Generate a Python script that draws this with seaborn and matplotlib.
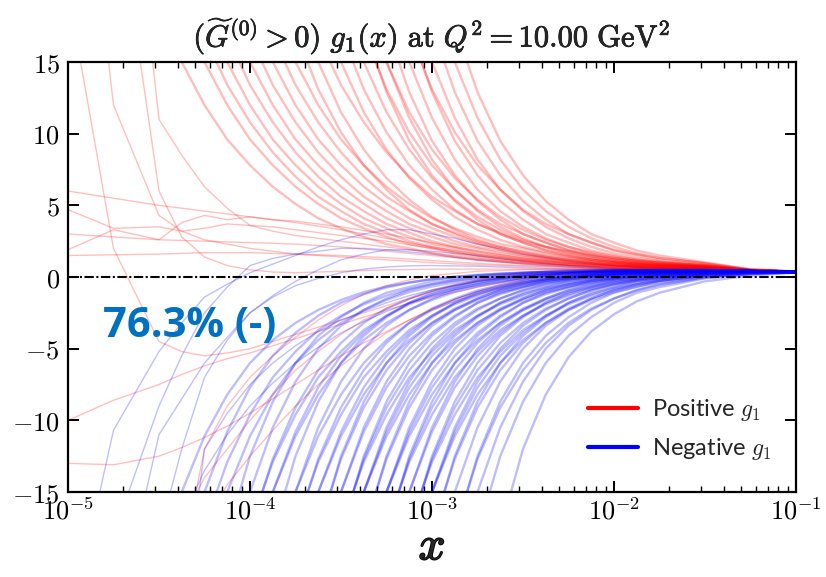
import matplotlib
matplotlib.use("Agg")
import matplotlib.pyplot as plt
import matplotlib.patheffects as pe
from matplotlib.lines import Line2D
from matplotlib.ticker import FixedLocator, FixedFormatter, LogLocator, NullFormatter
import pandas as pd
import seaborn as sns

# ---------------- data ----------------
# x grid (log-spaced nodes); every replica row is right-aligned to this grid:
# a row of length L gives g1 at the last L nodes.
x_nodes = [1.0e-5, 1.778e-5, 3.162e-5, 4.217e-5, 5.623e-5, 7.499e-5, 1.0e-4,
           1.334e-4, 1.778e-4, 2.371e-4, 3.162e-4, 4.217e-4, 5.623e-4, 7.499e-4,
           1.0e-3, 1.334e-3, 1.778e-3, 2.371e-3, 3.162e-3, 4.217e-3, 5.623e-3,
           7.499e-3, 1.0e-2, 1.334e-2, 1.778e-2, 3.162e-2, 5.623e-2, 1.0e-1]

# positive replicas leaving the top of the frame
red_fan = [
    [15, 12.0, 9.6, 7.8, 6.3, 5.1, 4.1, 3.4, 2.8, 2.3, 2.0, 1.65, 1.4, 1.2, 1.08, 0.96, 0.86, 0.79, 0.73, 0.69, 0.65, 0.61, 0.57, 0.47, 0.37],
    [15, 12.0, 9.6, 7.8, 6.3, 5.1, 4.1, 3.4, 2.8, 2.3, 2.0, 1.65, 1.4, 1.2, 1.08, 0.96, 0.86, 0.79, 0.73, 0.69, 0.65, 0.59, 0.47, 0.37],
    [16.8, 13.4, 10.8, 8.7, 7.0, 5.6, 4.6, 3.7, 3.1, 2.5, 2.1, 1.8, 1.5, 1.3, 1.15, 1.0, 0.91, 0.83, 0.76, 0.71, 0.67, 0.60, 0.47, 0.37],
    [15, 12.0, 9.6, 7.8, 6.3, 5.1, 4.1, 3.4, 2.8, 2.3, 2.0, 1.65, 1.4, 1.2, 1.08, 0.96, 0.86, 0.79, 0.73, 0.69, 0.61, 0.47, 0.37],
    [16.8, 13.4, 10.8, 8.7, 7.0, 5.6, 4.6, 3.7, 3.1, 2.5, 2.1, 1.8, 1.5, 1.3, 1.15, 1.0, 0.91, 0.83, 0.76, 0.71, 0.63, 0.47, 0.37],
    [15, 12.0, 9.6, 7.8, 6.3, 5.1, 4.1, 3.4, 2.8, 2.3, 2.0, 1.65, 1.4, 1.2, 1.08, 0.96, 0.86, 0.79, 0.73, 0.65, 0.47, 0.37],
    [16.8, 13.4, 10.8, 8.7, 7.0, 5.6, 4.6, 3.7, 3.1, 2.5, 2.1, 1.8, 1.5, 1.3, 1.15, 1.0, 0.91, 0.83, 0.76, 0.67, 0.47, 0.37],
    [15, 12.0, 9.6, 7.8, 6.3, 5.1, 4.1, 3.4, 2.8, 2.3, 2.0, 1.65, 1.4, 1.2, 1.08, 0.96, 0.86, 0.79, 0.69, 0.47, 0.37],
    [16.8, 13.4, 10.8, 8.7, 7.0, 5.6, 4.6, 3.7, 3.1, 2.5, 2.1, 1.8, 1.5, 1.3, 1.15, 1.0, 0.91, 0.83, 0.71, 0.47, 0.37],
    [15, 12.0, 9.6, 7.8, 6.3, 5.1, 4.1, 3.4, 2.8, 2.3, 2.0, 1.65, 1.4, 1.2, 1.08, 0.96, 0.86, 0.73, 0.47, 0.37],
    [17.1, 13.1, 10.1, 7.8, 6.1, 4.7, 3.7, 3.0, 2.4, 1.9, 1.58, 1.32, 1.12, 0.98, 0.86, 0.78, 0.71, 0.62, 0.47, 0.37],
    [16.8, 13.4, 10.8, 8.7, 7.0, 5.6, 4.6, 3.7, 3.1, 2.5, 2.1, 1.8, 1.5, 1.3, 1.15, 1.0, 0.83, 0.47, 0.38],
    [15, 11.5, 8.9, 6.9, 5.4, 4.2, 3.3, 2.6, 2.1, 1.74, 1.44, 1.22, 1.05, 0.91, 0.82, 0.74, 0.64, 0.47, 0.37],
    [15, 11.5, 8.9, 6.9, 5.4, 4.2, 3.3, 2.6, 2.1, 1.74, 1.44, 1.22, 1.05, 0.91, 0.82, 0.68, 0.47, 0.37],
    [17.1, 13.1, 10.1, 7.8, 6.1, 4.7, 3.7, 3.0, 2.4, 1.9, 1.58, 1.32, 1.12, 0.98, 0.86, 0.71, 0.47, 0.37],
]

red_steep = [
    [15, 11.5, 8.9, 6.9, 5.4, 4.2, 3.3, 2.6, 2.1, 1.74, 1.44, 1.22, 1.05, 0.91, 0.74, 0.47, 0.37],
    [17.1, 13.1, 10.1, 7.8, 6.1, 4.7, 3.7, 3.0, 2.4, 1.9, 1.58, 1.32, 1.12, 0.98, 0.78, 0.47, 0.37],
    [17.5, 12.9, 9.5, 7.1, 5.3, 4.0, 3.0, 2.4, 1.85, 1.5, 1.2, 1.02, 0.88, 0.78, 0.64, 0.47, 0.37],
    [15, 11.5, 8.9, 6.9, 5.4, 4.2, 3.3, 2.6, 2.1, 1.74, 1.44, 1.22, 1.05, 0.82, 0.47, 0.37],
    [15, 11.1, 8.2, 6.1, 4.6, 3.5, 2.7, 2.1, 1.65, 1.34, 1.1, 0.95, 0.82, 0.67, 0.47, 0.37],
    [17.5, 12.9, 9.5, 7.1, 5.3, 4.0, 3.0, 2.4, 1.85, 1.5, 1.2, 1.02, 0.88, 0.70, 0.47, 0.37],
    [15, 11.1, 8.2, 6.1, 4.6, 3.5, 2.7, 2.1, 1.65, 1.34, 1.1, 0.95, 0.74, 0.47, 0.37],
    [17.5, 12.9, 9.5, 7.1, 5.3, 4.0, 3.0, 2.4, 1.85, 1.5, 1.2, 1.02, 0.78, 0.47, 0.37],
    [17.1, 13.1, 10.1, 7.8, 6.1, 4.7, 3.7, 3.0, 2.4, 1.9, 1.58, 1.32, 0.98, 0.50, 0.38],
    [15, 11.1, 8.2, 6.1, 4.6, 3.5, 2.7, 2.1, 1.65, 1.34, 1.1, 0.82, 0.50, 0.38],
    [17.5, 12.9, 9.5, 7.1, 5.3, 4.0, 3.0, 2.4, 1.85, 1.5, 1.2, 0.88, 0.50, 0.38],
    [15, 11.1, 8.2, 6.1, 4.6, 3.5, 2.7, 2.1, 1.65, 1.34, 0.95, 0.52, 0.38],
    [17.5, 12.9, 9.5, 7.1, 5.3, 4.0, 3.0, 2.4, 1.85, 1.5, 1.02, 0.55, 0.39],
]

# positive replicas with irregular small-x behaviour (full grid)
red_left = [
    [4.7, 3.4, 3.5, 3.2, 3.4, 3.7, 3.6, 3.5, 3.3, 3.1, 2.9, 2.7, 2.5, 2.25, 2.0, 1.75, 1.5, 1.3, 1.1, 0.97, 0.85, 0.77, 0.70, 0.65, 0.60, 0.52, 0.45, 0.36],
    [1.9, 3.3, 2.6, 3.8, 4.3, 4.0, 4.2, 4.0, 3.9, 3.7, 3.5, 3.25, 3.0, 2.7, 2.4, 2.1, 1.8, 1.55, 1.3, 1.15, 1.0, 0.9, 0.8, 0.72, 0.65, 0.55, 0.46, 0.37],
    [3.0, 2.8, 2.6, 2.55, 2.5, 2.45, 2.4, 2.35, 2.3, 2.2, 2.1, 1.95, 1.8, 1.65, 1.5, 1.35, 1.2, 1.07, 0.95, 0.87, 0.8, 0.74, 0.68, 0.64, 0.6, 0.55, 0.46, 0.37],
    [6.0, 5.5, 5.0, 4.8, 4.6, 4.4, 4.2, 4.0, 3.8, 3.55, 3.3, 3.0, 2.7, 2.4, 2.1, 1.85, 1.6, 1.4, 1.2, 1.07, 0.95, 0.86, 0.78, 0.72, 0.66, 0.57, 0.47, 0.37],
    [1.5, 1.55, 1.6, 1.65, 1.7, 1.7, 1.7, 1.65, 1.6, 1.55, 1.5, 1.42, 1.35, 1.25, 1.15, 1.05, 0.95, 0.87, 0.8, 0.75, 0.7, 0.66, 0.62, 0.6, 0.57, 0.53, 0.45, 0.36],
    [20, 2.0, -4.5, -5.2, -5.5, -5.3, -5.0, -4.5, -4.0, -3.5, -3.0, -2.5, -2.0, -1.5, -1.0, -0.6, -0.3, -0.05, 0.2, 0.35, 0.45, 0.5, 0.55, 0.55, 0.55, 0.52, 0.45, 0.36],
    [40, 12.0, 4.3, 3.2, 2.6, 2.3, 2.0, 1.8, 1.6, 1.5, 1.4, 1.3, 1.2, 1.1, 1.0, 0.92, 0.85, 0.8, 0.75, 0.7, 0.65, 0.62, 0.6, 0.57, 0.55, 0.5, 0.44, 0.36],
    [40, 28, 6.0, 2.8, 1.4, 0.8, 0.5, 0.35, 0.3, 0.35, 0.4, 0.45, 0.5, 0.52, 0.55, 0.55, 0.55, 0.55, 0.55, 0.55, 0.55, 0.55, 0.55, 0.54, 0.52, 0.5, 0.44, 0.36],
    [40, 40, 11.0, 8.5, 6.3, 4.8, 3.6, 3.2, 2.9, 2.7, 2.5, 2.3, 2.1, 1.9, 1.7, 1.5, 1.3, 1.15, 1.0, 0.9, 0.8, 0.72, 0.65, 0.61, 0.58, 0.53, 0.46, 0.37],
    [-10, -8.6, -7.5, -6.8, -6.2, -5.7, -5.3, -4.8, -4.3, -3.8, -3.3, -2.8, -2.3, -1.85, -1.4, -1.05, -0.7, -0.4, -0.1, 0.1, 0.3, 0.42, 0.5, 0.53, 0.55, 0.5, 0.44, 0.36],
    [-13, -13.1, -12.5, -11.9, -11.2, -10.4, -9.5, -8.5, -7.5, -6.5, -5.5, -4.6, -3.8, -3.0, -2.3, -1.7, -1.2, -0.8, -0.4, -0.15, 0.1, 0.25, 0.4, 0.45, 0.5, 0.5, 0.44, 0.36],
    [-40, -40, -30, -20, -12, -9.0, -7.0, -5.5, -4.2, -3.0, -2.0, -1.2, -0.6, -0.2, 0.1, 0.25, 0.4, 0.45, 0.5, 0.52, 0.55, 0.55, 0.55, 0.54, 0.52, 0.5, 0.44, 0.36],
    [-40, -30, -20, -17, -14, -12, -10, -8.2, -6.5, -5.2, -4.0, -3.0, -2.2, -1.55, -1.0, -0.55, -0.2, 0.05, 0.3, 0.42, 0.5, 0.53, 0.55, 0.54, 0.53, 0.5, 0.44, 0.36],
    [-40, -32, -25, -21, -17, -14.5, -12.5, -10.7, -9.0, -7.5, -6.2, -5.0, -3.9, -3.0, -2.2, -1.55, -1.0, -0.55, -0.2, 0.05, 0.3, 0.42, 0.5, 0.53, 0.55, 0.5, 0.44, 0.36],
]

# negative replicas leaving the bottom, x < 3e-4
blue_mid = [
    [-15, -11.1, -8.2, -6.0, -4.4, -3.2, -2.3, -1.6, -1.05, -0.66, -0.37, -0.15, 0.01, 0.13, 0.22, 0.29, 0.35, 0.39, 0.41, 0.43, 0.45, 0.46, 0.48, 0.42, 0.35],
    [-17.4, -12.9, -9.6, -7.0, -5.2, -3.7, -2.7, -1.9, -1.3, -0.84, -0.5, -0.25, -0.07, 0.08, 0.18, 0.26, 0.32, 0.37, 0.40, 0.42, 0.44, 0.47, 0.42, 0.35],
    [-15, -10.8, -7.7, -5.5, -3.9, -2.7, -1.8, -1.2, -0.73, -0.4, -0.15, 0.02, 0.15, 0.25, 0.32, 0.37, 0.4, 0.43, 0.45, 0.47, 0.48, 0.49, 0.42, 0.35],
    [-15, -11.1, -8.2, -6.0, -4.4, -3.2, -2.3, -1.6, -1.05, -0.66, -0.37, -0.15, 0.01, 0.13, 0.22, 0.29, 0.35, 0.39, 0.41, 0.43, 0.46, 0.42, 0.35],
    [-17.9, -12.5, -8.7, -6.0, -4.1, -2.8, -1.8, -1.1, -0.7, -0.3, -0.1, 0.1, 0.2, 0.3, 0.35, 0.4, 0.43, 0.46, 0.48, 0.49, 0.5, 0.42, 0.35],
    [-17.4, -12.9, -9.6, -7.0, -5.2, -3.7, -2.7, -1.9, -1.3, -0.84, -0.5, -0.25, -0.07, 0.08, 0.18, 0.26, 0.32, 0.37, 0.40, 0.44, 0.42, 0.35],
    [-17.7, -12.7, -9.1, -6.5, -4.6, -3.2, -2.2, -1.5, -0.94, -0.55, -0.26, -0.06, 0.09, 0.2, 0.28, 0.34, 0.39, 0.42, 0.44, 0.47, 0.42, 0.35],
    [-15, -10.5, -7.3, -5.0, -3.4, -2.3, -1.5, -0.9, -0.5, -0.2, 0.0, 0.15, 0.25, 0.33, 0.38, 0.42, 0.45, 0.47, 0.48, 0.49, 0.42, 0.35],
    [-15, -11.1, -8.2, -6.0, -4.4, -3.2, -2.3, -1.6, -1.05, -0.66, -0.37, -0.15, 0.01, 0.13, 0.22, 0.29, 0.35, 0.39, 0.43, 0.42, 0.35],
    [-15, -10.8, -7.7, -5.5, -3.9, -2.7, -1.8, -1.2, -0.73, -0.4, -0.15, 0.02, 0.15, 0.25, 0.32, 0.37, 0.4, 0.43, 0.47, 0.42, 0.35],
    [-17.9, -12.5, -8.7, -6.0, -4.1, -2.8, -1.8, -1.1, -0.7, -0.3, -0.1, 0.1, 0.2, 0.3, 0.35, 0.4, 0.43, 0.46, 0.49, 0.42, 0.35],
    [-15, -11.1, -8.2, -6.0, -4.4, -3.2, -2.3, -1.6, -1.05, -0.66, -0.37, -0.15, 0.01, 0.13, 0.22, 0.29, 0.35, 0.41, 0.42, 0.35],
    [-17.4, -12.9, -9.6, -7.0, -5.2, -3.7, -2.7, -1.9, -1.3, -0.84, -0.5, -0.25, -0.07, 0.08, 0.18, 0.26, 0.32, 0.40, 0.42, 0.35],
    [-17.7, -12.7, -9.1, -6.5, -4.6, -3.2, -2.2, -1.5, -0.94, -0.55, -0.26, -0.06, 0.09, 0.2, 0.28, 0.34, 0.39, 0.44, 0.42, 0.35],
    [-15, -10.5, -7.3, -5.0, -3.4, -2.3, -1.5, -0.9, -0.5, -0.2, 0.0, 0.15, 0.25, 0.33, 0.38, 0.42, 0.45, 0.48, 0.42, 0.35],
    [-15, -11.1, -8.2, -6.0, -4.4, -3.2, -2.3, -1.6, -1.05, -0.66, -0.37, -0.15, 0.01, 0.13, 0.22, 0.29, 0.39, 0.42, 0.35],
    [-15, -10.8, -7.7, -5.5, -3.9, -2.7, -1.8, -1.2, -0.73, -0.4, -0.15, 0.02, 0.15, 0.25, 0.32, 0.37, 0.43, 0.42, 0.35],
    [-17.9, -12.5, -8.7, -6.0, -4.1, -2.8, -1.8, -1.1, -0.7, -0.3, -0.1, 0.1, 0.2, 0.3, 0.35, 0.4, 0.46, 0.42, 0.35],
    [-17.7, -12.7, -9.1, -6.5, -4.6, -3.2, -2.2, -1.5, -0.94, -0.55, -0.26, -0.06, 0.09, 0.2, 0.28, 0.34, 0.42, 0.42, 0.35],
]

# negative replicas: the dense bundle around x ~ 1e-3
blue_dense = [
    [-17.4, -12.9, -9.6, -7.0, -5.2, -3.7, -2.7, -1.9, -1.3, -0.84, -0.5, -0.25, -0.07, 0.08, 0.18, 0.32, 0.40, 0.35],
    [-15, -10.5, -7.3, -5.0, -3.4, -2.3, -1.5, -0.9, -0.5, -0.2, 0.0, 0.15, 0.25, 0.33, 0.38, 0.45, 0.42, 0.35],
    [-15, -10.8, -7.7, -5.5, -3.9, -2.7, -1.8, -1.2, -0.73, -0.4, -0.15, 0.02, 0.15, 0.25, 0.32, 0.4, 0.42, 0.35],
    [-17.7, -12.7, -9.1, -6.5, -4.6, -3.2, -2.2, -1.5, -0.94, -0.55, -0.26, -0.06, 0.09, 0.2, 0.28, 0.39, 0.42, 0.35],
    [-17.9, -12.5, -8.7, -6.0, -4.1, -2.8, -1.8, -1.1, -0.7, -0.3, -0.1, 0.1, 0.2, 0.3, 0.35, 0.43, 0.42, 0.35],
    [-15, -11.1, -8.2, -6.0, -4.4, -3.2, -2.3, -1.6, -1.05, -0.66, -0.37, -0.15, 0.01, 0.13, 0.29, 0.39, 0.35],
    [-15, -10.5, -7.3, -5.0, -3.4, -2.3, -1.5, -0.9, -0.5, -0.2, 0.0, 0.15, 0.25, 0.33, 0.42, 0.42, 0.35],
    [-17.9, -12.5, -8.7, -6.0, -4.1, -2.8, -1.8, -1.1, -0.7, -0.3, -0.1, 0.1, 0.2, 0.3, 0.4, 0.42, 0.35],
    [-15, -10.8, -7.7, -5.5, -3.9, -2.7, -1.8, -1.2, -0.73, -0.4, -0.15, 0.02, 0.15, 0.25, 0.37, 0.42, 0.35],
    [-17.7, -12.7, -9.1, -6.5, -4.6, -3.2, -2.2, -1.5, -0.94, -0.55, -0.26, -0.06, 0.09, 0.2, 0.34, 0.42, 0.35],
    [-17.4, -12.9, -9.6, -7.0, -5.2, -3.7, -2.7, -1.9, -1.3, -0.84, -0.5, -0.25, -0.07, 0.18, 0.32, 0.34],
    [-15, -10.5, -7.3, -5.0, -3.4, -2.3, -1.5, -0.9, -0.5, -0.2, 0.0, 0.15, 0.25, 0.38, 0.42, 0.35],
    [-17.9, -12.5, -8.7, -6.0, -4.1, -2.8, -1.8, -1.1, -0.7, -0.3, -0.1, 0.1, 0.2, 0.35, 0.42, 0.35],
    [-15, -10.8, -7.7, -5.5, -3.9, -2.7, -1.8, -1.2, -0.73, -0.4, -0.15, 0.02, 0.15, 0.32, 0.4, 0.35],
    [-17.7, -12.7, -9.1, -6.5, -4.6, -3.2, -2.2, -1.5, -0.94, -0.55, -0.26, -0.06, 0.09, 0.28, 0.39, 0.35],
    [-15, -11.1, -8.2, -6.0, -4.4, -3.2, -2.3, -1.6, -1.05, -0.66, -0.37, -0.15, 0.01, 0.22, 0.35, 0.34],
    [-15, -10.5, -7.3, -5.0, -3.4, -2.3, -1.5, -0.9, -0.5, -0.2, 0.0, 0.15, 0.33, 0.42, 0.35],
    [-17.9, -12.5, -8.7, -6.0, -4.1, -2.8, -1.8, -1.1, -0.7, -0.3, -0.1, 0.1, 0.3, 0.4, 0.35],
    [-15, -10.8, -7.7, -5.5, -3.9, -2.7, -1.8, -1.2, -0.73, -0.4, -0.15, 0.02, 0.25, 0.37, 0.34],
    [-17.7, -12.7, -9.1, -6.5, -4.6, -3.2, -2.2, -1.5, -0.94, -0.55, -0.26, -0.06, 0.2, 0.34, 0.34],
    [-17.4, -12.9, -9.6, -7.0, -5.2, -3.7, -2.7, -1.9, -1.3, -0.84, -0.5, -0.25, 0.08, 0.26, 0.33],
    [-15, -10.5, -7.3, -5.0, -3.4, -2.3, -1.5, -0.9, -0.5, -0.2, 0.0, 0.25, 0.38, 0.35],
    [-17.9, -12.5, -8.7, -6.0, -4.1, -2.8, -1.8, -1.1, -0.7, -0.3, -0.1, 0.2, 0.35, 0.34],
    [-15, -10.8, -7.7, -5.5, -3.9, -2.7, -1.8, -1.2, -0.73, -0.4, -0.15, 0.15, 0.32, 0.34],
    [-17.7, -12.7, -9.1, -6.5, -4.6, -3.2, -2.2, -1.5, -0.94, -0.55, -0.26, 0.09, 0.28, 0.33],
    [-15, -11.1, -8.2, -6.0, -4.4, -3.2, -2.3, -1.6, -1.05, -0.66, -0.37, 0.01, 0.22, 0.32],
]

# negative replicas reaching the bottom latest
blue_tail = [
    [-15, -10.5, -7.3, -5.0, -3.4, -2.3, -1.5, -0.9, -0.5, -0.2, 0.15, 0.33, 0.34],
    [-17.9, -12.5, -8.7, -6.0, -4.1, -2.8, -1.8, -1.1, -0.7, -0.3, 0.1, 0.3, 0.34],
    [-17.7, -12.7, -9.1, -6.5, -4.6, -3.2, -2.2, -1.5, -0.94, -0.55, -0.06, 0.2, 0.32],
    [-15, -10.5, -7.3, -5.0, -3.4, -2.3, -1.5, -0.9, -0.5, 0.0, 0.25, 0.33],
    [-17.9, -12.5, -8.7, -6.0, -4.1, -2.8, -1.8, -1.1, -0.7, -0.1, 0.2, 0.33],
    [-17.7, -12.0, -8.2, -5.6, -3.8, -2.6, -1.7, -1.1, -0.3, 0.1, 0.30],
]

# negative replicas with irregular small-x behaviour (full grid)
blue_left = [
    [-25, -10.7, -5.2, -3.2, -1.4, -0.5, 0.3, 0.9, 1.5, 2.1, 2.6, 3.0, 3.3, 3.3, 3.0, 2.7, 2.3, 1.95, 1.6, 1.35, 1.1, 0.95, 0.8, 0.7, 0.6, 0.5, 0.43, 0.35],
    [-40, -25, -11, -8.5, -6.0, -4.2, -2.5, -1.3, -0.3, 0.5, 1.2, 1.6, 1.9, 1.9, 1.8, 1.65, 1.5, 1.3, 1.1, 0.95, 0.8, 0.7, 0.6, 0.55, 0.52, 0.48, 0.42, 0.35],
    [-30, -18, -9.0, -5.5, -2.5, -0.7, 0.8, 1.3, 1.6, 1.8, 2.0, 2.0, 1.9, 1.75, 1.6, 1.4, 1.2, 1.05, 0.9, 0.8, 0.7, 0.62, 0.55, 0.52, 0.5, 0.48, 0.42, 0.35],
    [-40, -30, -18, -12, -7.0, -4.4, -2.5, -1.4, -0.6, -0.1, 0.3, 0.55, 0.7, 0.78, 0.8, 0.78, 0.75, 0.7, 0.65, 0.6, 0.55, 0.52, 0.5, 0.49, 0.48, 0.46, 0.42, 0.35],
    [-40, -40, -40, -25, -12.0, -9.5, -7.5, -6.0, -4.8, -3.8, -3.0, -2.4, -1.8, -1.3, -0.9, -0.6, -0.3, -0.1, 0.1, 0.2, 0.3, 0.35, 0.4, 0.43, 0.45, 0.46, 0.42, 0.35],
    [-40, -32, -22, -17, -13.5, -11.0, -9.0, -7.4, -6.0, -4.9, -3.9, -3.1, -2.4, -1.8, -1.3, -0.9, -0.6, -0.35, -0.1, 0.05, 0.2, 0.28, 0.35, 0.39, 0.42, 0.45, 0.42, 0.35],
]

x_ticks = [1e-5, 1e-4, 1e-3, 1e-2, 1e-1]
x_tick_labels = [r"$10^{-5}$", r"$10^{-4}$", r"$10^{-3}$", r"$10^{-2}$", r"$10^{-1}$"]
y_ticks = [-15, -10, -5, 0, 5, 10, 15]
y_tick_labels = [r"$-15$", r"$-10$", r"$-5$", r"$0$", r"$5$", r"$10$", r"$15$"]
legend_labels = [r"Positive $g_1$", r"Negative $g_1$"]
annotation_text = "76.3% (-)"
title_text = r"$(\widetilde{G}^{(0)} > 0)\ g_1(x)\ \mathrm{at}\ Q^2 = 10.00\ \mathrm{GeV}^2$"

# ---------------- build long table ----------------
def to_long(groups):
    records = []
    uid = 0
    for sign, group in groups:
        for row in group:
            xs = x_nodes[len(x_nodes) - len(row):]
            for xv, gv in zip(xs, row):
                records.append({"replica": uid, "sign": sign, "x": xv, "g1": gv})
            uid += 1
    return pd.DataFrame(records)

df_irregular = to_long([("pos", red_left), ("neg", blue_left)])
df_regular = to_long([("pos", red_fan), ("pos", red_steep),
                      ("neg", blue_mid), ("neg", blue_dense), ("neg", blue_tail)])

# ---------------- style ----------------
sns.set_style("ticks")
plt.rcParams["mathtext.fontset"] = "cm"
plt.rcParams["font.family"] = ["DejaVu Serif"]

fig = plt.figure(figsize=(8.26, 5.77), dpi=100)
ax = fig.add_axes([0.0823, 0.1473, 0.8814, 0.7452])
ax.set_xscale("log")

palette = {"pos": "#ff0000", "neg": "#0000ff"}
sns.lineplot(data=df_irregular, x="x", y="g1", hue="sign", units="replica", estimator=None,
             hue_order=["pos", "neg"], palette=palette,
             alpha=0.25, linewidth=1.0, legend=False, sort=True, ax=ax)
sns.lineplot(data=df_regular, x="x", y="g1", hue="sign", units="replica", estimator=None,
             hue_order=["pos", "neg"], palette=palette,
             alpha=0.26, linewidth=1.7, legend=False, sort=True, ax=ax)

ax.axhline(0, color="black", linewidth=1.5, linestyle=(0, (4.5, 1.2, 1.0, 1.2)), zorder=5)

ax.set_xlim(1e-5, 1e-1)
ax.set_ylim(-15, 15)

ax.xaxis.set_major_locator(FixedLocator(x_ticks))
ax.xaxis.set_major_formatter(FixedFormatter(x_tick_labels))
ax.xaxis.set_minor_locator(LogLocator(base=10, subs=[2, 3, 4, 5, 6, 7, 8, 9]))
ax.xaxis.set_minor_formatter(NullFormatter())
ax.yaxis.set_major_locator(FixedLocator(y_ticks))
ax.yaxis.set_major_formatter(FixedFormatter(y_tick_labels))

ax.tick_params(which="both", direction="in", top=True, right=True, colors="black")
ax.tick_params(which="major", length=8, width=1.4, labelsize=19)
ax.tick_params(axis="x", which="major", pad=4)
ax.tick_params(axis="y", which="major", pad=6)
ax.tick_params(which="minor", length=4, width=1.0)
for sp in ax.spines.values():
    sp.set_linewidth(1.6)
    sp.set_color("black")

ax.set_ylabel("")
ax.set_xlabel(r"$x$", fontsize=34, labelpad=0,
              path_effects=[pe.withStroke(linewidth=1.2, foreground="black")])
ax.set_title(title_text, fontsize=22, pad=11,
             path_effects=[pe.withStroke(linewidth=0.5, foreground="black")])

handles = [Line2D([0], [0], color="#ff0000", lw=3),
           Line2D([0], [0], color="#0000ff", lw=3)]
ax.legend(handles, legend_labels, loc="upper left", bbox_to_anchor=(0.685, 0.27),
          frameon=False, handlelength=2.1, handletextpad=0.6, labelspacing=0.55,
          prop={"family": "Lato", "size": 17})

ax.text(0.048, 0.385, annotation_text, transform=ax.transAxes, ha="left", va="center",
        fontsize=30, fontweight="bold", family="Open Sans", color="#0070C0", zorder=6)

fig.savefig("out.png", dpi=100)
